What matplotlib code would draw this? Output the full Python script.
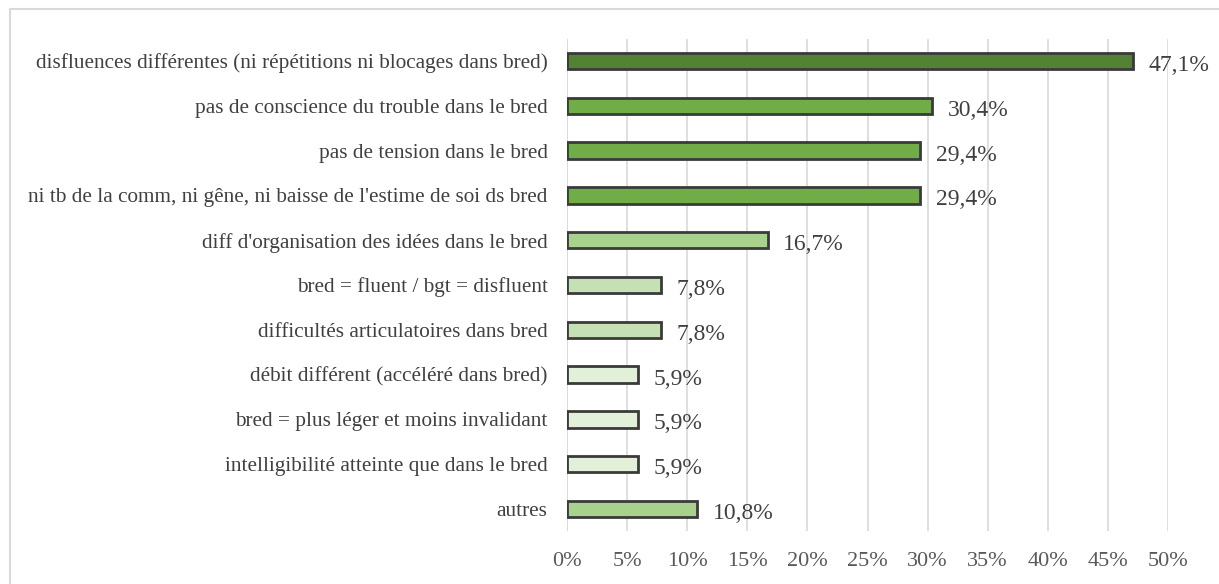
import matplotlib
matplotlib.use("Agg")
import matplotlib.pyplot as plt
from matplotlib.patches import Rectangle
from matplotlib.ticker import FuncFormatter

categories = [
    "disfluences différentes (ni répétitions ni blocages dans bred)",
    "pas de conscience du trouble dans le bred",
    "pas de tension dans le bred",
    "ni tb de la comm, ni gêne, ni baisse de l'estime de soi ds bred",
    "diff d'organisation des idées dans le bred",
    "bred = fluent / bgt = disfluent",
    "difficultés articulatoires dans bred",
    "débit différent (accéléré dans bred)",
    "bred = plus léger et moins invalidant",
    "intelligibilité atteinte que dans le bred",
    "autres",
]
values = [47.1, 30.4, 29.4, 29.4, 16.7, 7.8, 7.8, 5.9, 5.9, 5.9, 10.8]
colors = ["#548235", "#70AD47", "#70AD47", "#70AD47", "#A9D18E",
          "#C5E0B4", "#C5E0B4", "#E2F0D9", "#E2F0D9", "#E2F0D9", "#A9D18E"]
xticks = [0, 5, 10, 15, 20, 25, 30, 35, 40, 45, 50]

plt.rcParams['font.family'] = ['Liberation Serif', 'DejaVu Serif']

W, H = 1219, 584
fig = plt.figure(figsize=(W / 100, H / 100), dpi=100)
fig.patches.append(Rectangle((9.5 / W, -0.1), 1.2, 1 - 9.5 / H + 0.1,
                             transform=fig.transFigure, fill=False,
                             edgecolor="#D9D9D9", linewidth=1.5))

left, right = 567 / W, 1168 / W
top, bottom = 1 - 38.6 / H, 1 - 531.4 / H
ax = fig.add_axes([left, bottom, right - left, top - bottom])

y = list(range(len(categories)))
ax.barh(y, values, height=0.37, color=colors, edgecolor="#3A3A3A",
        linewidth=2.0, zorder=3)
ax.set_ylim(len(categories) - 0.5, -0.5)
ax.set_xlim(0, 50)
ax.set_xticks(xticks)
ax.xaxis.set_major_formatter(FuncFormatter(lambda v, p: f"{int(v)}%"))
ax.set_yticks(y)
ax.set_yticklabels(categories, fontsize=15.3, color="#404040")
ax.tick_params(axis="y", length=0, pad=14)
ax.tick_params(axis="x", length=0, pad=15, labelsize=16, labelcolor="#595959")
ax.grid(axis="x", color="#D9D9D9", linewidth=1.2, zorder=0)
for s in ax.spines.values():
    s.set_visible(False)
ax.axvline(0, color="#D9D9D9", linewidth=1.2, zorder=1)

for yi, v in zip(y, values):
    ax.text(v + 1.3, yi + 0.1, f"{v:.1f}%".replace(".", ","), va="center",
            ha="left", fontsize=17, color="#404040")

fig.savefig("out.png", dpi=100)
